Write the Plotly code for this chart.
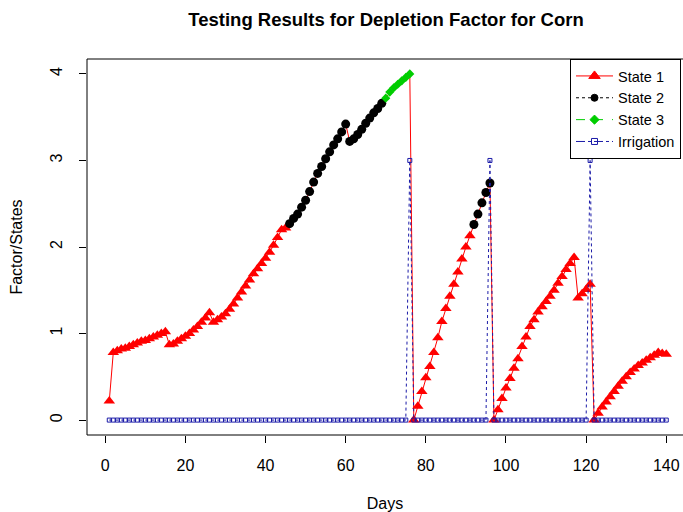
import plotly.graph_objects as go

# Daily depletion factor for corn, days 1..140
days = list(range(1, 141))
factor = [
    0.22,
    0.78, 0.80, 0.82, 0.83, 0.85, 0.87, 0.89, 0.91, 0.92, 0.94, 0.96, 0.98, 1.00, 1.02,
    0.87, 0.88, 0.91, 0.94, 0.97, 1.00, 1.04, 1.08, 1.13, 1.18, 1.24,
    1.13, 1.16, 1.19, 1.23, 1.28, 1.34, 1.41, 1.48, 1.55, 1.62, 1.69, 1.75, 1.81, 1.87,
    1.94, 2.02, 2.11, 2.20, 2.22,
    2.27, 2.33, 2.38, 2.46, 2.54, 2.64, 2.75, 2.85, 2.93, 3.02, 3.10, 3.18, 3.25, 3.33, 3.42,
    3.22, 3.25, 3.30, 3.36, 3.43, 3.49, 3.55, 3.60, 3.66,
    3.72, 3.79, 3.84, 3.88, 3.92, 3.96, 4.00,
    0.00, 0.16, 0.33, 0.49, 0.62, 0.78, 0.95, 1.14, 1.29, 1.43, 1.57, 1.71, 1.86, 2.00, 2.13,
    2.26, 2.38, 2.51, 2.63, 2.74,
    0.00, 0.12, 0.25, 0.37, 0.48, 0.60, 0.71, 0.85, 0.96, 1.08, 1.16, 1.25, 1.31, 1.37,
    1.43, 1.50, 1.58, 1.66, 1.74, 1.81, 1.88,
    1.41, 1.46, 1.51, 1.57,
    0.00, 0.08, 0.15, 0.21, 0.27, 0.33, 0.39, 0.45, 0.50, 0.55, 0.59, 0.63, 0.66, 0.69,
    0.72, 0.75, 0.78, 0.77, 0.76,
]

# Crop state of each day (1, 2 or 3)
state = [1] * 45 + [2] * 24 + [3] * 7 + [1] * 15 + [2] * 5 + [1] * 44

# Irrigation events (value 3 on irrigation days, 0 otherwise)
irrigation = [0] * 75 + [3] + [0] * 19 + [3] + [0] * 24 + [3] + [0] * 19

x_ticks = [0, 20, 40, 60, 80, 100, 120, 140]
y_ticks = [0, 1, 2, 3, 4]

RED = "#FF0000"
BLACK = "#000000"
GREEN = "#00CD00"
BLUE = "#1A1AA8"
FONT = "Liberation Sans, Arial, sans-serif"


def pick(s):
    xs = [d for d, st in zip(days, state) if st == s]
    ys = [f for f, st in zip(factor, state) if st == s]
    return xs, ys


fig = go.Figure()

# connecting line through all days
fig.add_trace(go.Scatter(x=days, y=factor, mode="lines",
                         line=dict(color=RED, width=1), showlegend=False,
                         hoverinfo="skip"))

x1, y1 = pick(1)
fig.add_trace(go.Scatter(x=x1, y=y1, mode="markers", showlegend=False,
                         marker=dict(symbol="triangle-up", size=10, color=RED)))
x2, y2 = pick(2)
fig.add_trace(go.Scatter(x=x2, y=y2, mode="markers", showlegend=False,
                         marker=dict(symbol="circle", size=9, color=BLACK)))
x3, y3 = pick(3)
fig.add_trace(go.Scatter(x=x3, y=y3, mode="markers", showlegend=False,
                         marker=dict(symbol="diamond", size=7, color=GREEN)))

fig.add_trace(go.Scatter(x=days, y=irrigation, mode="lines+markers", showlegend=False,
                         line=dict(color=BLUE, width=1, dash="dot"),
                         marker=dict(symbol="square-open", size=4, color=BLUE,
                                     line=dict(width=1, color=BLUE))))

# legend entries
legend_items = [
    ("State 1", RED, "solid", "triangle-up", 10),
    ("State 2", BLACK, "dot", "circle", 7),
    ("State 3", GREEN, "dash", "diamond", 7),
    ("Irrigation", BLUE, "dashdot", "square-open", 6),
]
for name, col, dash, sym, sz in legend_items:
    fig.add_trace(go.Scatter(x=[None], y=[None], mode="lines+markers", name=name,
                             line=dict(color=col, width=1, dash=dash),
                             marker=dict(symbol=sym, size=sz, color=col,
                                         line=dict(width=1, color=col))))

# box: left, top and bottom edges (right edge lies beyond the page)
for x0, y0, xa, ya in [(0, 0, 0, 1), (0, 1, 1.02, 1), (0, 0, 1.02, 0)]:
    fig.add_shape(type="line", xref="paper", yref="paper", x0=x0, y0=y0, x1=xa, y1=ya,
                  line=dict(color="#000000", width=1))

fig.update_layout(
    width=683, height=512,
    margin=dict(l=87, r=0, t=59, b=77),
    paper_bgcolor="white", plot_bgcolor="white",
    font=dict(family=FONT, size=16, color="black"),
    title=dict(text="<b>Testing Results for Depletion Factor for Corn</b>",
               x=386 / 683, xanchor="center", y=1 - 20 / 512, yanchor="middle",
               font=dict(size=18.5, family=FONT)),
    legend=dict(x=(570 - 87) / 596, xanchor="left", y=1, yanchor="top",
                bordercolor="black", borderwidth=1, bgcolor="white",
                font=dict(size=14.5, family=FONT), tracegroupgap=0, itemwidth=37),
    showlegend=True,
)

fig.update_xaxes(range=[-4.56, 144.18], tickvals=x_ticks, ticks="outside", ticklen=7,
                 tickcolor="#000000", showgrid=False, zeroline=False, showline=False,
                 ticklabelstandoff=9, tickfont=dict(size=16),
                 title=dict(text="Days", font=dict(size=16), standoff=24))
fig.update_yaxes(range=[-0.1724, 4.1724], tickvals=y_ticks, ticks="outside", ticklen=7,
                 tickcolor="#000000", showgrid=False, zeroline=False, showline=False,
                 tickangle=-90, ticklabelstandoff=11, tickfont=dict(size=16),
                 title=dict(text="Factor/States", font=dict(size=16), standoff=20))

fig.write_html("out.html")
